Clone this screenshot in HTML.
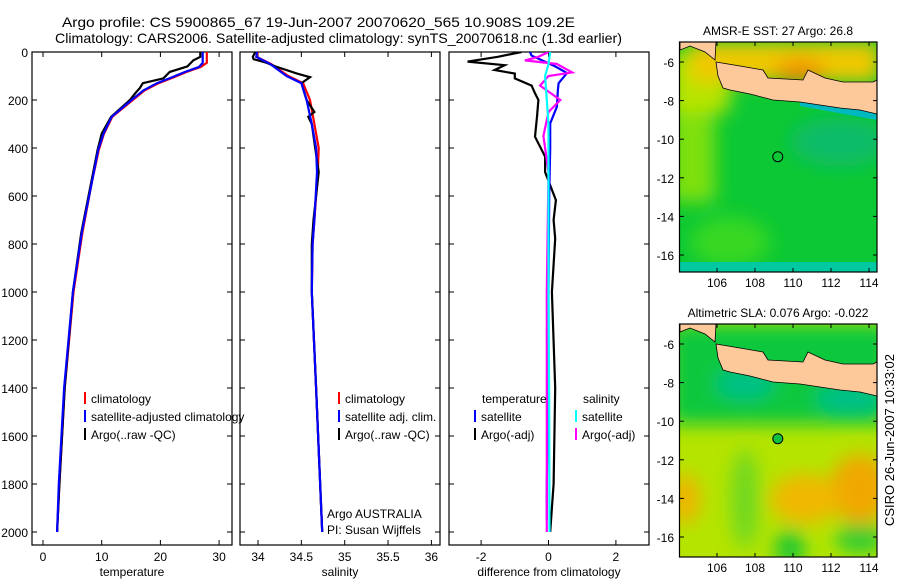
<!DOCTYPE html>
<html><head><meta charset="utf-8"><style>
body{margin:0;background:#fff;}
svg{display:block;font-family:"Liberation Sans",sans-serif;}
</style></head><body>
<svg id="fig" width="900" height="580" viewBox="0 0 900 580" xmlns="http://www.w3.org/2000/svg">
<defs>
<clipPath id="c1"><rect x="32" y="52" width="200" height="493"/></clipPath>
<clipPath id="c2"><rect x="240" y="52" width="200" height="493"/></clipPath>
<clipPath id="c3"><rect x="449" y="52" width="200" height="493"/></clipPath>
<clipPath id="cm1"><rect x="680" y="42" width="197" height="230"/></clipPath>
<clipPath id="cm2"><rect x="679" y="324" width="198" height="233"/></clipPath>
<filter id="bl" x="-50%" y="-50%" width="200%" height="200%"><feGaussianBlur stdDeviation="9"/></filter>
</defs>
<text x="62" y="27" font-size="14" textLength="513" lengthAdjust="spacingAndGlyphs">Argo profile: CS 5900865_67 19-Jun-2007 20070620_565 10.908S 109.2E</text>
<text x="55" y="43" font-size="14" textLength="567" lengthAdjust="spacingAndGlyphs">Climatology: CARS2006. Satellite-adjusted climatology: synTS_20070618.nc (1.3d earlier)</text>
<g id="plots"></g>
<g id="maps"></g>
<text transform="translate(894,440) rotate(-90)" font-size="13" text-anchor="middle">CSIRO 26-Jun-2007 10:33:02</text>
</svg>
<script>
// ---- data ----
const tDepth=[0,45,62,83,104,130,160,200,270,340,408,546,755,1000,1400,1800,2000];
const tClim=[27.9,27.9,26.9,24.5,22.4,19.7,17.3,15.3,11.8,10.4,9.5,8.3,6.7,5.2,3.7,2.8,2.4];
const tSat=[27.2,27.2,26.6,24.2,22.1,19.4,17.1,15.1,11.7,10.3,9.4,8.3,6.6,5.1,3.6,2.7,2.4];
const aDepth=[0,20,35,60,83,110,130,150,172,200,270,340,408,546,755,1000,1400,1800,2000];
const tArgo=[26.8,26.8,25.6,24.6,21.6,20.5,17.0,16.5,15.7,14.8,11.6,10.0,9.3,8.2,6.5,5.1,3.7,2.8,2.4];
const sDepth=[0,20,50,100,130,200,300,400,500,700,800,1000,1400,2000];
const sClim=[34.0,33.98,34.15,34.35,34.52,34.6,34.65,34.7,34.69,34.65,34.63,34.62,34.67,34.74];
const sSat=[33.99,33.98,34.14,34.33,34.5,34.56,34.62,34.67,34.68,34.65,34.63,34.62,34.67,34.74];
const sArgoD=[0,20,30,45,60,90,105,130,200,250,270,300,400,500,700,800,1000,1400,2000];
const sArgo=[33.97,33.94,33.95,34.1,34.2,34.45,34.6,34.5,34.56,34.65,34.58,34.62,34.66,34.7,34.64,34.62,34.62,34.67,34.74];
const dD=[0,20,40,55,75,90,110,140,172,200,270,353,436,500,617,700,777,1000,1400,1800,2000];
const dTArgo=[-0.8,-1.5,-2.4,-1.3,-1.6,-1.0,-1.0,-0.5,-0.4,-0.3,-0.34,-0.4,-0.1,-0.1,0.22,0.15,0.2,0.1,0.2,0.15,0.05];
const sD=[0,15,60,88,130,158,228,297,400,600,1000,1400,1800,1950];
const dTSat=[-0.55,-0.5,0.2,0.55,0.3,0.28,0.25,0.05,0.05,0.02,0.0,0.0,-0.05,-0.05];
const mD=[0,20,35,50,85,100,140,200,250,350,500,1000,1600,2000];
const dSArgo=[0.0,-0.3,-0.7,0.25,0.7,0.0,-0.25,0.35,0.0,-0.15,0.0,-0.05,-0.05,-0.05];
const cD=[0,50,100,200,300,600,1000,1500,2000];
const dSSat=[0.05,0.0,-0.1,-0.05,0.0,0.0,0.0,0.02,0.03];
const tTicks=[0,10,20,30], sTicks=[34,34.5,35,35.5,36], dTicks=[-2,0,2];
const depthTicks=[0,200,400,600,800,1000,1200,1400,1600,1800,2000];
const NS="http://www.w3.org/2000/svg";
function mk(tag,attrs,parent){const e=document.createElementNS(NS,tag);for(const k in attrs)e.setAttribute(k,attrs[k]);parent.appendChild(e);return e;}
const yD=d=>52+d*0.24;
const plots=document.getElementById('plots');
const panels=[
 {x0:32,x:v=>43+v*5.87,ticks:tTicks,clip:'c1',label:'temperature',name:'temperature-panel'},
 {x0:240,x:v=>258+(v-34)*86.7,ticks:sTicks,clip:'c2',label:'salinity',name:'salinity-panel'},
 {x0:449,x:v=>548.5+v*33.7,ticks:dTicks,clip:'c3',label:'difference from climatology',name:'difference-panel'}];
panels.forEach((p,i)=>{
 const g=mk('g',{},plots);
 
 
 const fr=mk('rect',{x:p.x0,y:52,width:200,height:493,fill:'none',stroke:'#000','stroke-width':1.2},g);
 
 
 p.ticks.forEach(t=>{const X=p.x(t);
  mk('line',{x1:X,x2:X,y1:545,y2:540,stroke:'#000'},g);mk('line',{x1:X,x2:X,y1:52,y2:57,stroke:'#000'},g);
  const tx=mk('text',{x:X,y:561,'font-size':12,'text-anchor':'middle'},g);tx.textContent=String(t);
  
  });
 depthTicks.forEach(d=>{const Y=yD(d);
  mk('line',{x1:p.x0,x2:p.x0+5,y1:Y,y2:Y,stroke:'#000'},g);mk('line',{x1:p.x0+195,x2:p.x0+200,y1:Y,y2:Y,stroke:'#000'},g);
  if(i===0){const tx=mk('text',{x:28,y:Y+5,'font-size':12,'text-anchor':'end'},g);tx.textContent=String(d);
   
   }});
 const xl=mk('text',{x:p.x0+100,y:576,'font-size':12,'text-anchor':'middle'},g);xl.textContent=p.label;
 
 
});
function line(p,ds,vs,col,name,w){
 const pts=ds.map((d,k)=>p.x(vs[k]).toFixed(1)+','+yD(d).toFixed(1)).join(' ');
 const e=mk('polyline',{points:pts,fill:'none',stroke:col,'stroke-width':w||2.2,'clip-path':'url(#'+p.clip+')'},plots);
 
 
}
line(panels[0],tDepth,tClim,'#f00','temperature-climatology-line');
line(panels[0],aDepth,tArgo,'#000','temperature-argo-line');
line(panels[0],tDepth,tSat,'#00f','temperature-satellite-line');
line(panels[1],sDepth,sClim,'#f00','salinity-climatology-line');
line(panels[1],sArgoD,sArgo,'#000','salinity-argo-line');
line(panels[1],sDepth,sSat,'#00f','salinity-satellite-line');
line(panels[2],dD,dTArgo,'#000','temp-argo-diff-line');
line(panels[2],sD,dTSat,'#00f','temp-satellite-diff-line');
line(panels[2],mD,dSArgo,'#f0f','salinity-argo-diff-line');
line(panels[2],cD,dSSat,'#0ff','salinity-satellite-diff-line');
function leg(x,y,col,txt){
 const g=mk('g',{},plots);
 
 
 if(col)mk('line',{x1:x,x2:x,y1:y-11,y2:y+1,stroke:col,'stroke-width':2},g);
 const t=mk('text',{x:x+6,y:y,'font-size':12},g);t.textContent=txt;
}
leg(85,403,'#f00','climatology');leg(85,421,'#00f','satellite-adjusted climatology');leg(85,439,'#000','Argo(..raw -QC)');
leg(339,403,'#f00','climatology');leg(339,421,'#00f','satellite adj. clim.');leg(339,439,'#000','Argo(..raw -QC)');
leg(476,403,null,'temperature');leg(475,421,'#00f','satellite');leg(475,439,'#000','Argo(-adj)');
leg(577,403,null,'salinity');leg(576,421,'#0ff','satellite');leg(576,439,'#f0f','Argo(-adj)');
leg(321,518,null,'Argo AUSTRALIA');leg(321,534,null,'PI: Susan Wijffels');

// ---- maps ----
const maps=document.getElementById('maps');
const lonTicks=[106,108,110,112,114], latTicks=[-6,-8,-10,-12,-14,-16];
function map(top,bottom,clip,title,kind,name){
 const g=mk('g',{},maps);
 
 
 const lx=lon=>717+(lon-106)*19, ly=lat=>top+20+(-6-lat)*19.3;
 const c=mk('g',{'clip-path':'url(#'+clip+')'},g);
 const h=bottom-top;
 if(kind==='sst'){
  mk('rect',{x:679,y:top,width:200,height:h,fill:'#0cc834'},c);
  const b=mk('g',{filter:'url(#bl)'},c);
  mk('rect',{x:670,y:top+40,width:45,height:120,fill:'#7ee010'},b);
  mk('rect',{x:670,y:top+10,width:60,height:60,fill:'#b8e400'},b);
  mk('ellipse',{cx:730,cy:top+200,rx:40,ry:25,fill:'#38d820'},b);
  mk('ellipse',{cx:840,cy:top+100,rx:50,ry:25,fill:'#10bc68'},b);
  mk('rect',{x:690,y:top,width:190,height:40,fill:'#f0c800'},b);
  mk('ellipse',{cx:800,cy:top+30,rx:25,ry:12,fill:'#f09000'},b);
  mk('rect',{x:680,y:bottom-10,width:200,height:10,fill:'#00c8a0'},c);
  mk('polygon',{points:'800,'+(top+58)+' 877,'+(top+70)+' 877,'+(top+78)+' 800,'+(top+64)},c).setAttribute('fill','#00b8c0');
 } else {
  mk('rect',{x:679,y:top,width:200,height:h,fill:'#b4e400'},c);
  const b=mk('g',{filter:'url(#bl)'},c);
  mk('rect',{x:670,y:top,width:220,height:100,fill:'#10c83c'},b);
  mk('ellipse',{cx:745,cy:top+60,rx:30,ry:15,fill:'#00c088'},b);
  mk('ellipse',{cx:850,cy:top+75,rx:35,ry:15,fill:'#00c088'},b);
  mk('ellipse',{cx:860,cy:top+165,rx:30,ry:35,fill:'#f0a800'},b);
  mk('ellipse',{cx:805,cy:top+175,rx:35,ry:25,fill:'#f0b800'},b);
  mk('ellipse',{cx:685,cy:top+175,rx:15,ry:25,fill:'#f0b400'},b);
  mk('ellipse',{cx:745,cy:top+175,rx:14,ry:50,fill:'#70d820'},b);
  mk('ellipse',{cx:790,cy:top+225,rx:15,ry:20,fill:'#20c830'},b);
  mk('ellipse',{cx:860,cy:top+215,rx:25,ry:15,fill:'#30cc30'},b);
 }
 const land=mk('polygon',{points:[[680,0],[716,0],[715,18],[705,10],[690,4],[680,8]].map(q=>q[0]+','+(q[1]+top)).join(' '),fill:'#fdc89a',stroke:'#000','stroke-width':0.8},c);
 
 
 const jp=[[716,20],[740,24],[763,28],[768,36],[803,38],[808,28],[825,36],[843,40],[873,40],[877,38],[877,72],[860,68],[840,66],[820,63],[800,60],[773,58],[750,52],[730,48],[723,46],[718,34]];
 const java=mk('polygon',{points:jp.map(q=>q[0]+','+(q[1]+top)).join(' '),fill:'#fdc89a',stroke:'#000','stroke-width':0.8},c);
 
 
 const ci=mk('circle',{cx:lx(109.2),cy:ly(-10.908),r:5,fill:kind==='sst'?'none':'#10c040',stroke:'#000','stroke-width':1},g);
 
 
 mk('rect',{x:679.5,y:top,width:197.5,height:h,fill:'none',stroke:'#000','stroke-width':1.2},g);
 lonTicks.forEach(L=>{const X=lx(L);mk('line',{x1:X,x2:X,y1:bottom,y2:bottom-4,stroke:'#000'},g);mk('line',{x1:X,x2:X,y1:top,y2:top+4,stroke:'#000'},g);
  const t=mk('text',{x:X,y:bottom+15,'font-size':12,'text-anchor':'middle'},g);t.textContent=String(L);
  
  });
 latTicks.forEach(L=>{const Y=ly(L);mk('line',{x1:680,x2:684,y1:Y,y2:Y,stroke:'#000'},g);mk('line',{x1:873,x2:877,y1:Y,y2:Y,stroke:'#000'},g);
  const t=mk('text',{x:674,y:Y+5,'font-size':12,'text-anchor':'end'},g);t.textContent=String(L);
  
  });
 const tt=mk('text',{x:778,y:top-7,'font-size':12,'text-anchor':'middle'},g);tt.textContent=title;
 
 
}
map(42,272,'cm1','AMSR-E SST: 27 Argo: 26.8','sst','sst-map');
map(324,557,'cm2','Altimetric SLA: 0.076 Argo: -0.022','sla','sla-map');
</script>
</body></html>
